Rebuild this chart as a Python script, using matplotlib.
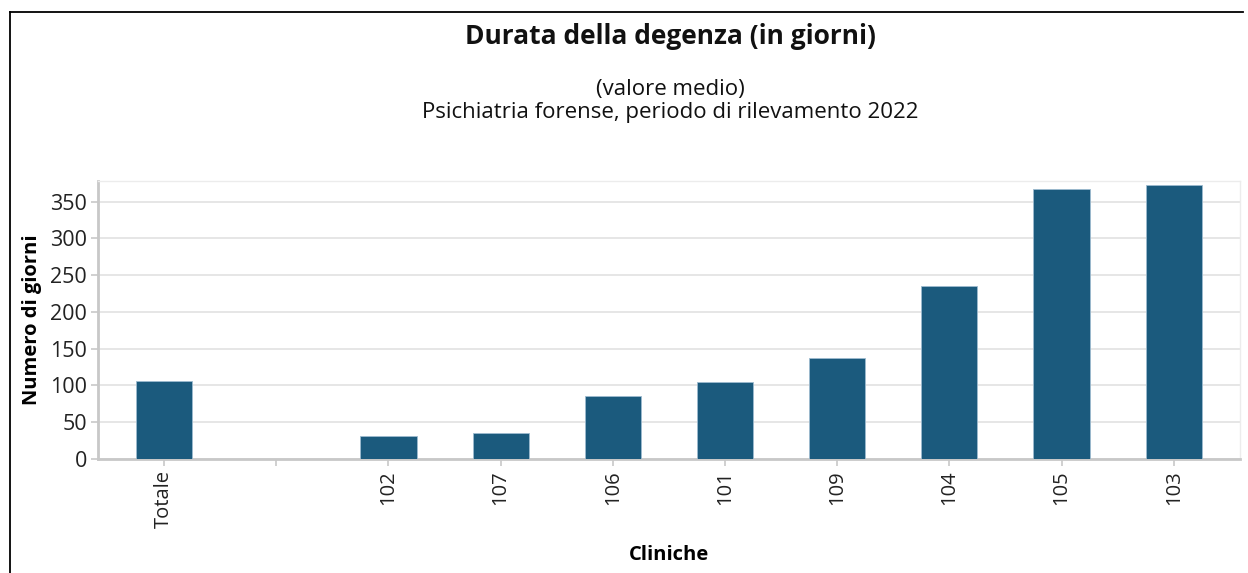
import numpy as np
import matplotlib
matplotlib.use("Agg")
import matplotlib.pyplot as plt
from matplotlib.lines import Line2D

plt.rcParams['font.family'] = ['Open Sans', 'DejaVu Sans']

# Mean length of stay per clinic (days); the empty slot separates the total
categories = ["Totale", "", "102", "107", "106", "101", "109", "104", "105", "103"]
values = [106, np.nan, 31, 35, 86, 105, 138, 235, 367, 373]

title = "Durata della degenza (in giorni)"
subtitle = "(valore medio)\nPsichiatria forense, periodo di rilevamento 2022"
y_ticks = [0, 50, 100, 150, 200, 250, 300, 350]

bar_color = "#1b5a7d"
grid_color = "#e2e2e2"
axis_color = "#c8c8c8"

fig = plt.figure(figsize=(12.48, 5.73), dpi=100)
ax = fig.add_axes([0.0785, 0.199, 0.915, 0.485])

x = np.arange(len(categories))
ax.bar(x, values, width=0.5, color=bar_color, edgecolor="#9dbbd0",
       linewidth=0.6, zorder=3)

ax.set_xlim(-0.59, len(categories) - 1 + 0.59)
ax.set_ylim(0, 378)
ax.set_xticks(x)
ax.set_xticklabels(categories, rotation=90, fontsize=14.5, color="#222222")
ax.set_yticks(y_ticks)
ax.set_yticklabels([str(v) for v in y_ticks], fontsize=15.5, color="#222222")

ax.yaxis.grid(True, color=grid_color, linewidth=1.2, zorder=0)
ax.set_axisbelow(True)

for side in ("top", "right"):
    ax.spines[side].set_color("#ececec")
    ax.spines[side].set_linewidth(1.0)
for side in ("left", "bottom"):
    ax.spines[side].set_color(axis_color)
    ax.spines[side].set_linewidth(2.0)

ax.tick_params(axis="both", colors=axis_color, length=5, width=1.2,
               labelcolor="#222222", pad=3)

ax.set_xlabel("Cliniche", fontsize=14.5, fontweight="bold", labelpad=12)
ax.set_ylabel("Numero di giorni", fontsize=14.5, fontweight="bold", labelpad=6)

fig.text(0.537, 0.936, title, ha="center", va="center",
         fontsize=19, fontweight="bold", color="#111111")
fig.text(0.537, 0.824, subtitle, ha="center", va="center",
         fontsize=16, color="#111111", linespacing=1.15)

# Frame lines along the top and left of the figure
fig.add_artist(Line2D([10 / 1248, 1243 / 1248], [1 - 11.5 / 573, 1 - 11.5 / 573],
                      color="black", linewidth=1.3, transform=fig.transFigure))
fig.add_artist(Line2D([10 / 1248, 10 / 1248], [0, 1 - 11.5 / 573],
                      color="black", linewidth=1.3, transform=fig.transFigure))

fig.savefig("out.png", dpi=100, facecolor="white")
